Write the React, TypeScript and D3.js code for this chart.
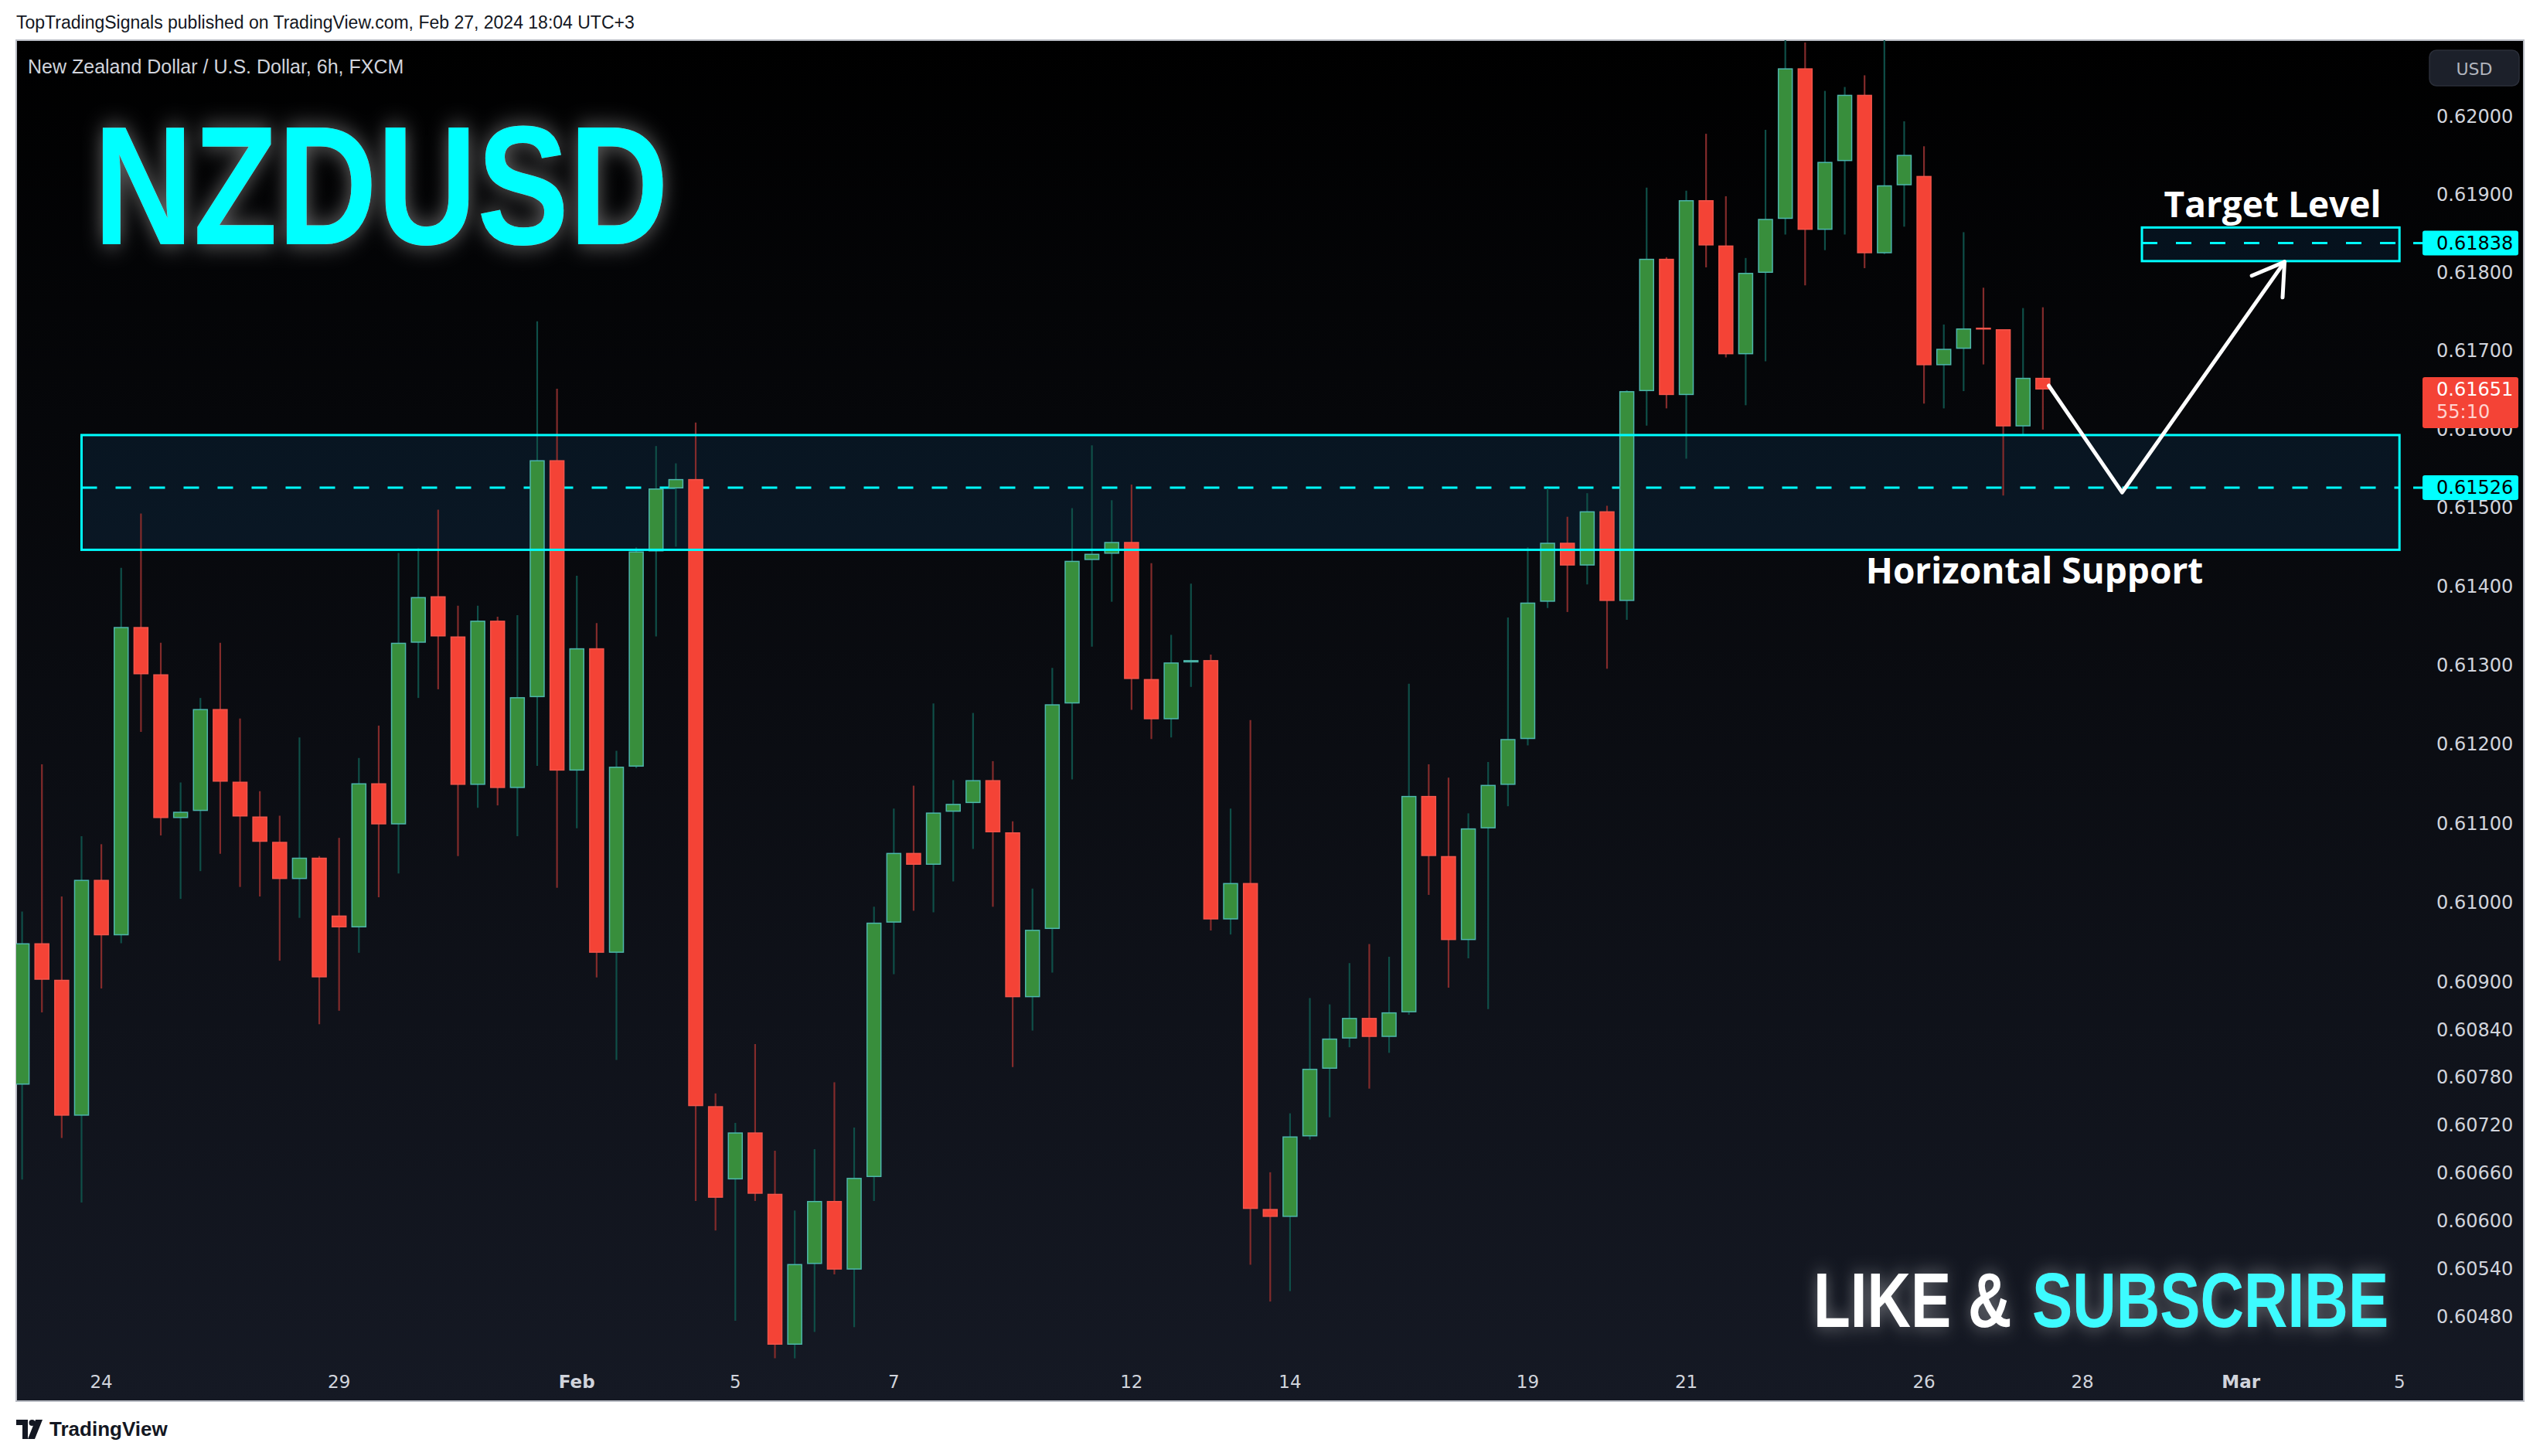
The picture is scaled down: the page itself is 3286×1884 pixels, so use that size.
import React, { useEffect } from 'react';
import * as d3 from 'd3';

// NZDUSD 6h candles, index 0 = Jan 23 first session (4 bars per trading day)
const opens = [
  0.60771, 0.60949, 0.60903, 0.60732, 0.61029, 0.60959, 0.61349, 0.61289, 0.61107, 0.61116,
  0.61245, 0.61153, 0.61109, 0.61077, 0.61030, 0.61057, 0.60984, 0.60969, 0.61151, 0.61099,
  0.61329, 0.61388, 0.61337, 0.61149, 0.61357, 0.61145, 0.61260, 0.61561, 0.61167, 0.61322,
  0.60937, 0.61172, 0.61445, 0.61525, 0.61537, 0.60744, 0.60652, 0.60711, 0.60634, 0.60445,
  0.60546, 0.60625, 0.60539, 0.60655, 0.60975, 0.61063, 0.61048, 0.61115, 0.61126, 0.61155,
  0.61089, 0.60881, 0.60967, 0.61252, 0.61434, 0.61442, 0.61457, 0.61283, 0.61232, 0.61304,
  0.61307, 0.60979, 0.61025, 0.60615, 0.60605, 0.60706, 0.60791, 0.60829, 0.60855, 0.60831,
  0.60862, 0.61135, 0.61059, 0.60953, 0.61094, 0.61149, 0.61207, 0.61381, 0.61456, 0.61427,
  0.61496, 0.61382, 0.61649, 0.61818, 0.61644, 0.61893, 0.61835, 0.61696, 0.61800, 0.61869,
  0.62062, 0.61855, 0.61943, 0.62028, 0.61825, 0.61912, 0.61924, 0.61682, 0.61703, 0.61730,
  0.61728, 0.61604, 0.61666,
];
const highs = [
  0.60989, 0.61175, 0.61008, 0.61084, 0.61074, 0.61424, 0.61493, 0.61329, 0.61152, 0.61259,
  0.61329, 0.61233, 0.61141, 0.61110, 0.61209, 0.61059, 0.61082, 0.61183, 0.61224, 0.61443,
  0.61449, 0.61498, 0.61376, 0.61376, 0.61362, 0.61364, 0.61738, 0.61652, 0.61414, 0.61354,
  0.61192, 0.61450, 0.61579, 0.61557, 0.61609, 0.60760, 0.60723, 0.60822, 0.60688, 0.60613,
  0.60690, 0.60774, 0.60717, 0.60995, 0.61119, 0.61148, 0.61252, 0.61155, 0.61240, 0.61179,
  0.61103, 0.61018, 0.61297, 0.61500, 0.61580, 0.61510, 0.61530, 0.61430, 0.61339, 0.61404,
  0.61314, 0.61119, 0.61231, 0.60661, 0.60735, 0.60880, 0.60872, 0.60924, 0.60948, 0.60932,
  0.61277, 0.61175, 0.61158, 0.61113, 0.61178, 0.61361, 0.61450, 0.61525, 0.61489, 0.61519,
  0.61503, 0.61650, 0.61909, 0.61820, 0.61905, 0.61978, 0.61898, 0.61819, 0.61983, 0.62120,
  0.62095, 0.62033, 0.62038, 0.62053, 0.62110, 0.61994, 0.61962, 0.61734, 0.61852, 0.61781,
  0.61728, 0.61755, 0.61756,
];
const lows = [
  0.60652, 0.60862, 0.60704, 0.60623, 0.60892, 0.60949, 0.61216, 0.61085, 0.61005, 0.61040,
  0.61062, 0.61020, 0.61008, 0.60927, 0.60981, 0.60847, 0.60864, 0.60937, 0.61007, 0.61037,
  0.61259, 0.61270, 0.61059, 0.61120, 0.61123, 0.61084, 0.61173, 0.61019, 0.61094, 0.60906,
  0.60802, 0.61170, 0.61337, 0.61451, 0.60625, 0.60588, 0.60475, 0.60625, 0.60428, 0.60428,
  0.60461, 0.60533, 0.60467, 0.60625, 0.60910, 0.60990, 0.60988, 0.61027, 0.61068, 0.60995,
  0.60793, 0.60839, 0.60912, 0.61156, 0.61324, 0.61381, 0.61244, 0.61207, 0.61209, 0.61273,
  0.60965, 0.60960, 0.60545, 0.60499, 0.60512, 0.60702, 0.60730, 0.60818, 0.60766, 0.60811,
  0.60859, 0.61010, 0.60893, 0.60930, 0.60866, 0.61122, 0.61199, 0.61373, 0.61368, 0.61403,
  0.61296, 0.61358, 0.61605, 0.61627, 0.61563, 0.61807, 0.61692, 0.61631, 0.61687, 0.61849,
  0.61784, 0.61829, 0.61849, 0.61806, 0.61824, 0.61859, 0.61633, 0.61627, 0.61649, 0.61683,
  0.61516, 0.61594, 0.61600,
];
const closes = [
  0.60949, 0.60903, 0.60732, 0.61029, 0.60959, 0.61349, 0.61289, 0.61107, 0.61115, 0.61245,
  0.61153, 0.61109, 0.61077, 0.61030, 0.61057, 0.60906, 0.60969, 0.61151, 0.61099, 0.61329,
  0.61387, 0.61337, 0.61149, 0.61357, 0.61145, 0.61260, 0.61561, 0.61167, 0.61322, 0.60937,
  0.61172, 0.61445, 0.61525, 0.61537, 0.60744, 0.60629, 0.60711, 0.60634, 0.60445, 0.60546,
  0.60625, 0.60539, 0.60654, 0.60975, 0.61063, 0.61048, 0.61114, 0.61125, 0.61155, 0.61089,
  0.60881, 0.60966, 0.61251, 0.61433, 0.61442, 0.61457, 0.61283, 0.61232, 0.61304, 0.61307,
  0.60979, 0.61025, 0.60615, 0.60605, 0.60706, 0.60791, 0.60829, 0.60855, 0.60831, 0.60862,
  0.61135, 0.61059, 0.60953, 0.61094, 0.61149, 0.61207, 0.61380, 0.61456, 0.61427, 0.61496,
  0.61382, 0.61649, 0.61818, 0.61644, 0.61893, 0.61835, 0.61696, 0.61800, 0.61869, 0.62062,
  0.61855, 0.61942, 0.62028, 0.61825, 0.61912, 0.61951, 0.61682, 0.61703, 0.61729, 0.61729,
  0.61604, 0.61666, 0.61651,
];

const priceTicks = [
  0.62, 0.619, 0.618, 0.617, 0.616, 0.615, 0.614, 0.613, 0.612, 0.611, 0.61, 0.609,
  0.6084, 0.6078, 0.6072, 0.6066, 0.606, 0.6054, 0.6048,
];
const timeTickIndex = [4, 16, 28, 36, 44, 56, 64, 76, 84, 96, 104, 112, 120];
const timeTickLabels = ['24', '29', 'Feb', '5', '7', '12', '14', '19', '21', '26', '28', 'Mar', '5'];

const supportZone = [0.61447, 0.61593];
const supportLevel = 0.61526;
const supportFrom = 3;
const targetZone = [0.61815, 0.61858];
const targetLevel = 0.61838;
const targetFrom = 107;
const zoneTo = 120;
const lastPrice = 0.61651;
const countdown = '55:10';
// projected path: [bar index, price]
const projection: [number, number][] = [
  [102.3, 0.61656],
  [106.0, 0.6152],
  [114.2, 0.61814],
];

const W = 3286;
const H = 1884;
const frame = { x: 21, y: 52, w: 3244, h: 1761 };
const plotRight = 3127;
const axisX = 3152;

const upFill = '#388e3c';
const upBorder = '#4db6ac';
const upWick = '#0f4f48';
const downFill = '#f44336';
const downBorder = '#f2554b';
const downWick = '#832b2b';
const cyan = '#00ffff';
const axisText = '#d1d4dc';
const tvFont = '"DejaVu Sans", sans-serif';
const boldFont = "'Liberation Sans', Arial, sans-serif";

const App: React.FC = () => {
  useEffect(() => {
    document.body.style.margin = '0';
  }, []);

  const x = d3.scaleLinear().domain([0, 120]).range([28.6, 3104.2]);
  const y = d3.scaleLog().domain([0.6048, 0.62]).range([1703.8, 150.9]);
  const bodyW = 19.5;

  const fmt = d3.format('.5f');

  const pts = projection.map(([i, p]) => [x(i), y(p)] as [number, number]);
  const arrowLine = d3.line()(pts) || '';
  const [tx, ty] = pts[pts.length - 1];
  const [px, py] = pts[pts.length - 2];
  const ang = Math.atan2(py - ty, px - tx);
  const barb = 46;
  const spread = (32 * Math.PI) / 180;
  const headPath = `M${tx + barb * Math.cos(ang + spread)},${ty + barb * Math.sin(ang + spread)} L${tx},${ty} L${tx + barb * Math.cos(ang - spread)},${ty + barb * Math.sin(ang - spread)}`;

  return (
    <svg width={W} height={H} style={{ display: 'block', background: '#ffffff' }} fontFamily="'Liberation Sans', Arial, sans-serif">
      <style>{`body{margin:0}`}</style>
      <defs>
        <linearGradient id="bg" x1="0" y1="0" x2="0" y2="1">
          <stop offset="0" stopColor="#000000" />
          <stop offset="1" stopColor="#151924" />
        </linearGradient>
        <clipPath id="plotClip">
          <rect x={frame.x} y={frame.y} width={plotRight - frame.x} height={1760 - frame.y} />
        </clipPath>
        <filter id="glow" x="-15%" y="-40%" width="130%" height="180%">
          <feGaussianBlur in="SourceAlpha" stdDeviation="12" result="blur" />
          <feFlood floodColor="#ffffff" floodOpacity="0.42" />
          <feComposite in2="blur" operator="in" result="glowc" />
          <feMerge>
            <feMergeNode in="glowc" />
            <feMergeNode in="SourceGraphic" />
          </feMerge>
        </filter>
        <filter id="glow2" x="-15%" y="-60%" width="130%" height="220%">
          <feGaussianBlur in="SourceAlpha" stdDeviation="9" result="blur" />
          <feFlood floodColor="#ffffff" floodOpacity="0.4" />
          <feComposite in2="blur" operator="in" result="glowc" />
          <feMerge>
            <feMergeNode in="glowc" />
            <feMergeNode in="SourceGraphic" />
          </feMerge>
        </filter>
      </defs>

      {/* header */}
      <text x={21} y={29} fontSize={23} fill="#131722" dominantBaseline="central">
        TopTradingSignals published on TradingView.com, Feb 27, 2024 18:04 UTC+3
      </text>

      {/* chart frame */}
      <rect x={frame.x} y={frame.y} width={frame.w} height={frame.h} fill="url(#bg)" stroke="#b9bcc4" strokeWidth={2} />

      <text x={36} y={86} fontSize={25} fill={axisText} dominantBaseline="central">
        New Zealand Dollar / U.S. Dollar, 6h, FXCM
      </text>

      <g clipPath="url(#plotClip)">
        {/* support zone */}
        <rect
          x={x(supportFrom)}
          y={y(supportZone[1])}
          width={x(zoneTo) - x(supportFrom)}
          height={y(supportZone[0]) - y(supportZone[1])}
          fill="rgba(33,150,243,0.1)"
        />
        <line x1={x(supportFrom)} x2={x(zoneTo)} y1={y(supportLevel)} y2={y(supportLevel)} stroke={cyan} strokeWidth={3} strokeDasharray="20 24" />

        {/* candles */}
        {opens.map((o, i) => {
          const c = closes[i];
          const up = c >= o;
          const cx = x(i);
          const top = y(Math.max(o, c));
          const bot = y(Math.min(o, c));
          const bh = Math.max(bot - top, 2);
          return (
            <g key={i}>
              <line x1={cx} x2={cx} y1={y(highs[i])} y2={y(lows[i])} stroke={up ? upWick : downWick} strokeWidth={2.2} />
              <rect
                x={cx - bodyW / 2 + 0.75}
                y={top + 0.75}
                width={bodyW - 1.5}
                height={Math.max(bh - 1.5, 1)}
                fill={up ? upFill : downFill}
                stroke={up ? upBorder : downBorder}
                strokeWidth={1.5}
              />
            </g>
          );
        })}

        {/* zone outlines */}
        <rect
          x={x(supportFrom)}
          y={y(supportZone[1])}
          width={x(zoneTo) - x(supportFrom)}
          height={y(supportZone[0]) - y(supportZone[1])}
          fill="none"
          stroke={cyan}
          strokeWidth={3}
        />
        <rect
          x={x(targetFrom)}
          y={y(targetZone[1])}
          width={x(zoneTo) - x(targetFrom)}
          height={y(targetZone[0]) - y(targetZone[1])}
          fill="rgba(33,150,243,0.1)"
          stroke={cyan}
          strokeWidth={3}
        />
        <line x1={x(targetFrom)} x2={x(zoneTo)} y1={y(targetLevel)} y2={y(targetLevel)} stroke={cyan} strokeWidth={3} strokeDasharray="20 24" />

        {/* projection arrow */}
        <path d={arrowLine} fill="none" stroke="#ffffff" strokeWidth={5} strokeLinejoin="round" strokeLinecap="round" />
        <path d={headPath} fill="none" stroke="#ffffff" strokeWidth={5} strokeLinejoin="round" strokeLinecap="round" />
      </g>

      {/* annotations */}
      <g transform="translate(121,316) scale(1,1.225)">
        <text x={0} y={0} fontSize={178.6} fontWeight={700} fill={cyan} fontFamily={boldFont} filter="url(#glow)">
          NZDUSD
        </text>
      </g>
      <text x={2940} y={281} fontSize={46} fontWeight={700} fill="#ffffff" textAnchor="middle" fontFamily="'Open Sans', sans-serif">
        Target Level
      </text>
      <text x={2632} y={755} fontSize={46} fontWeight={700} fill="#ffffff" textAnchor="middle" fontFamily="'Open Sans', sans-serif">
        Horizontal Support
      </text>
      <g transform="translate(2346,1717) scale(1,1.285)">
        <text x={0} y={0} fontSize={78.3} fontWeight={700} fill="#ffffff" fontFamily={boldFont} filter="url(#glow2)">
          LIKE &amp;
        </text>
      </g>
      <g transform="translate(2629,1717) scale(1,1.285)">
        <text x={0} y={0} fontSize={78.3} fontWeight={700} fill="#3dfbff" fontFamily={boldFont} filter="url(#glow2)">
          SUBSCRIBE
        </text>
      </g>

      {/* price scale */}
      <rect x={3143} y={65} width={116} height={46} rx={9} fill="#1c202a" stroke="#2a2e39" strokeWidth={1.5} />
      <text x={3201} y={89} fontSize={22} fill="#b2b5be" textAnchor="middle" dominantBaseline="central" fontFamily={tvFont}>
        USD
      </text>
      {priceTicks.map((t) => (
        <text key={t} x={axisX} y={y(t)} fontSize={24} fill={axisText} dominantBaseline="central" fontFamily={tvFont}>
          {fmt(t)}
        </text>
      ))}

      {[targetLevel, supportLevel].map((lv) => (
        <g key={lv}>
          <line x1={3122} x2={3136} y1={y(lv)} y2={y(lv)} stroke={cyan} strokeWidth={3} />
          <rect x={3134} y={y(lv) - 16} width={124} height={32} rx={3} fill={cyan} />
          <text x={axisX} y={y(lv)} fontSize={24} fill="#000000" dominantBaseline="central" fontFamily={tvFont}>
            {fmt(lv)}
          </text>
        </g>
      ))}

      <rect x={3134} y={y(lastPrice) - 16} width={124} height={66} rx={3} fill="#f44336" />
      <text x={axisX} y={y(lastPrice)} fontSize={24} fill="#ffffff" dominantBaseline="central" fontFamily={tvFont}>
        {fmt(lastPrice)}
      </text>
      <text x={axisX} y={y(lastPrice) + 29} fontSize={24} fill="#ffd2cf" dominantBaseline="central" fontFamily={tvFont}>
        {countdown}
      </text>

      {/* time scale */}
      {timeTickIndex.map((idx, k) => {
        const lab = timeTickLabels[k];
        const month = /[A-Za-z]/.test(lab);
        return (
          <text
            key={k}
            x={x(idx)}
            y={1788}
            fontSize={23}
            fontWeight={month ? 700 : 400}
            fill={axisText}
            textAnchor="middle"
            dominantBaseline="central"
            fontFamily={tvFont}
          >
            {lab}
          </text>
        );
      })}

      {/* footer logo */}
      <g fill="#131722">
        <path d="M21,1837 H36 V1862 H29 V1844 H21 Z" />
        <circle cx={41.5} cy={1841} r={4} />
        <path d="M46,1837 H55 L45,1862 H36 Z" />
      </g>
      <text x={64} y={1849} fontSize={26} fontWeight={700} fill="#131722" dominantBaseline="central">
        TradingView
      </text>
    </svg>
  );
};

export default App;
